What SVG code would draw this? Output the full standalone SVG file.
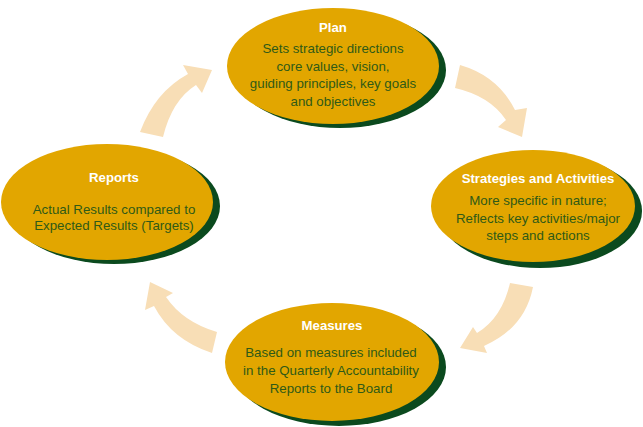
<svg xmlns="http://www.w3.org/2000/svg" width="643" height="427" viewBox="0 0 643 427">
<style>
.sh{fill:#0B4A1E}
.el{fill:#E2A600}
.t{font-family:"Liberation Sans",Arial,sans-serif;font-weight:bold;font-size:13.2px;fill:#FFFFFF;text-anchor:middle}
.b{font-family:"Liberation Sans",Arial,sans-serif;font-size:13.3px;fill:#2F5A17;text-anchor:middle}
.ar{fill:#F8DEB6}
</style>
<rect width="643" height="427" fill="#FFFFFF"/>
<g id="connectors">
<path class="ar" d="M140,132 Q155,92 188,74 L183,65 L212,70 L202,93 L196,85 Q172,100 163,137 Z"/>
<path class="ar" d="M460,65 Q498,76 515,110 L527,108 L522,137 L498,127 L506,120 Q490,96 455,88 Z"/>
<path class="ar" d="M510,283 L533,287 Q525,328 484,346 L487,353 L460,348 L473,327 L477,333 Q502,318 510,283 Z"/>
<path class="ar" d="M217,332 Q183,322 166,297 L173,293 L150,282 L145,310 L154,306 Q172,340 212,353 Z"/>
</g>
<g id="plan">
<ellipse class="sh" cx="340" cy="70" rx="106" ry="58"/>
<ellipse class="el" cx="333" cy="66" rx="106" ry="58"/>
<text class="t" x="333" y="32">Plan</text>
<text class="b" x="333" y="53">Sets strategic directions</text>
<text class="b" x="333" y="71">core values, vision,</text>
<text class="b" x="333" y="88">guiding principles, key goals</text>
<text class="b" x="333" y="106">and objectives</text>
</g>
<g id="strategies">
<ellipse class="sh" cx="540" cy="211" rx="102" ry="57"/>
<ellipse class="el" cx="533" cy="206" rx="102" ry="56"/>
<text class="t" x="538" y="183">Strategies and Activities</text>
<text class="b" x="538" y="205">More specific in nature;</text>
<text class="b" x="538" y="223">Reflects key activities/major</text>
<text class="b" x="538" y="240">steps and actions</text>
</g>
<g id="reports">
<ellipse class="sh" cx="114" cy="206" rx="106" ry="58"/>
<ellipse class="el" cx="107" cy="202" rx="106" ry="58"/>
<text class="t" x="114" y="182">Reports</text>
<text class="b" x="114" y="214">Actual Results compared to</text>
<text class="b" x="114" y="230">Expected Results (Targets)</text>
</g>
<g id="measures">
<ellipse class="sh" cx="339" cy="367" rx="107" ry="59"/>
<ellipse class="el" cx="332" cy="362" rx="107" ry="59"/>
<text class="t" x="332" y="330">Measures</text>
<text class="b" x="331" y="357">Based on measures included</text>
<text class="b" x="331" y="375">in the Quarterly Accountability</text>
<text class="b" x="331" y="393">Reports to the Board</text>
</g>
</svg>
